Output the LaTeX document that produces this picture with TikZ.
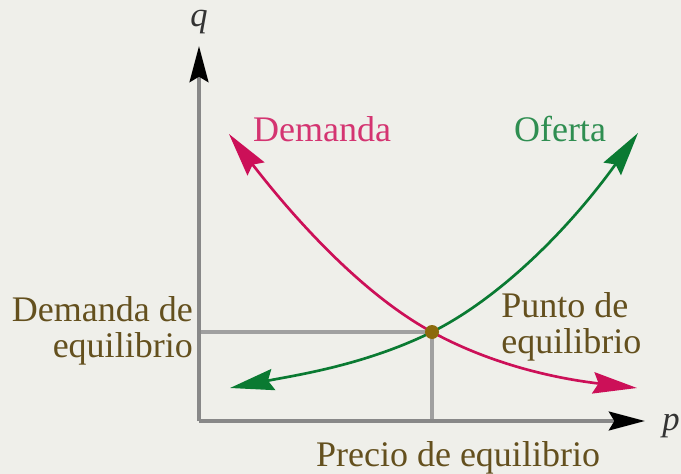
\documentclass[tikz,border=0pt]{standalone}
\usepackage{fontspec}
\setmainfont{Liberation Serif}
\usetikzlibrary{arrows.meta}
\definecolor{bgcol}{HTML}{EFEFEA}
\definecolor{axiscol}{HTML}{888888}
\definecolor{guidecol}{HTML}{A0A0A0}
\definecolor{demcol}{HTML}{CC1058}
\definecolor{supcol}{HTML}{0A7A32}
\definecolor{txtcol}{HTML}{64501E}
\definecolor{dotcol}{HTML}{8C6A0C}
\tikzset{
  axisline/.style={draw=axiscol, line width=3.2pt, -{Stealth[length=27pt, width=14pt, inset=4pt, color=black]}},
  guideline/.style={draw=guidecol, line width=2.4pt},
  curvetip/.style={Stealth[length=33pt, width=16pt, inset=4pt]},
  curveline/.style={line width=2pt, {Stealth[length=33pt, width=16pt, inset=4pt]}-{Stealth[length=33pt, width=16pt, inset=4pt]}},
  lbl/.style={font=\fontsize{27}{26.3}\selectfont, text=txtcol, inner sep=0pt},
  axlbl/.style={font=\fontsize{26}{26}\selectfont\itshape, text=black!80, inner sep=0pt},
}
\begin{document}
\begin{tikzpicture}[x=0.75pt, y=-0.75pt]
\fill[bgcol] (0,0) rectangle (681,474);
\useasboundingbox (0,0) rectangle (681,474);
\coordinate (O) at (199,421);
\coordinate (ytop) at (199,46);
\coordinate (xend) at (645,421);
\coordinate (eq) at (432,332);
\coordinate (eqy) at (199,332);
\coordinate (eqx) at (432,421);
\coordinate (d0) at (229,134);
\coordinate (d1) at (637,388);
\coordinate (s0) at (230,388);
\coordinate (s1) at (638,133);
% guides
\draw[guideline] (eqy) -- (eq) -- (eqx);
% axes
\draw[axisline] (O) -- (ytop);
\draw[axisline] (O) -- (xend);
% demand
\draw[curveline, demcol] (d0) .. controls (297,222) and (364,295) .. (eq)
      .. controls (500,369) and (569,380) .. (d1);
% supply
\draw[curveline, supcol] (s0) .. controls (297,375) and (365,365) .. (eq)
      .. controls (500,298) and (569,229) .. (s1);
% equilibrium point
\fill[dotcol] (eq) circle (7);
% labels
\node[axlbl, anchor=base] (q) at (199,27) {q};
\node[axlbl, anchor=base] (p) at (671,430) {p};
\node[lbl, anchor=base, text=demcol!85] (dem) at (322,142) {Demanda};
\node[lbl, anchor=base, text=supcol!85] (ofe) at (560,142) {Oferta};
\node[lbl, anchor=base east, align=right] (deq) at (193,357) {Demanda de\\equilibrio};
\node[lbl, anchor=base west, align=left] (peq) at (501,353) {Punto de\\equilibrio};
\node[lbl, anchor=base] (prc) at (458,466) {Precio de equilibrio};
\end{tikzpicture}
\end{document}
